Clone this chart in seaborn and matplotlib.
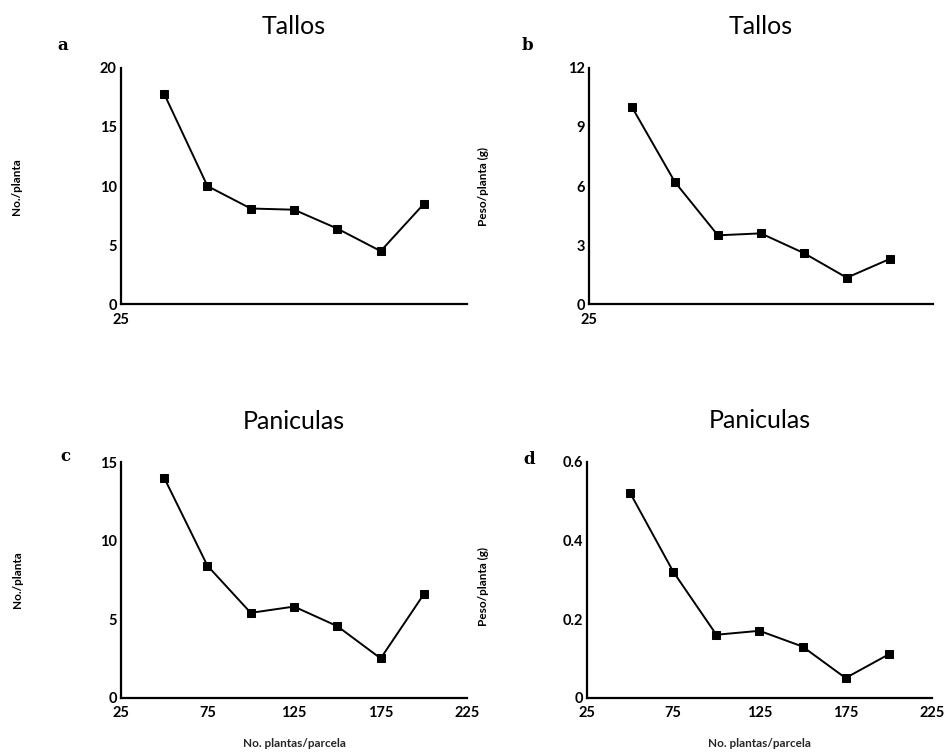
import matplotlib
matplotlib.use("Agg")
import matplotlib.pyplot as plt
import seaborn as sns
import pandas as pd

# Plant density per plot
plantas_parcela = [50, 75, 100, 125, 150, 175, 200]

# Stems (tallos)
tallos_numero = [17.8, 10.0, 8.1, 8.0, 6.4, 4.5, 8.5]
tallos_peso = [10.0, 6.2, 3.5, 3.6, 2.6, 1.35, 2.3]

# Panicles (paniculas)
paniculas_numero = [14.0, 8.4, 5.4, 5.8, 4.55, 2.5, 6.6]
paniculas_peso = [0.52, 0.32, 0.16, 0.17, 0.13, 0.05, 0.11]

titulos = ["Tallos", "Tallos", "Paniculas", "Paniculas"]
letras = ["a", "b", "c", "d"]
etiquetas_y = ["No./planta", "Peso/planta (g)", "No./planta", "Peso/planta (g)"]
etiqueta_x = "No. plantas/parcela"
x_ticks = [25, 75, 125, 175, 225]
y_ticks = [[0, 5, 10, 15, 20], [0, 3, 6, 9, 12], [0, 5, 10, 15], [0, 0.2, 0.4, 0.6]]
y_ticklabels = [["0", "5", "10", "15", "20"], ["0", "3", "6", "9", "12"],
                ["0", "5", "10", "15"], ["0", "0.2", "0.4", "0.6"]]

sns.set_theme(style="white")
plt.rcParams["font.family"] = ["Lato", "DejaVu Sans"]

fig = plt.figure(figsize=(9.44, 7.54), dpi=100)

# axes rectangles [left, bottom, width, height] in figure fraction
rects = [
    [0.128, 0.5964, 0.367, 0.3137],
    [0.624, 0.5964, 0.364, 0.3137],
    [0.128, 0.0747, 0.367, 0.3125],
    [0.622, 0.0747, 0.365, 0.3130],
]
series = [tallos_numero, tallos_peso, paniculas_numero, paniculas_peso]

for i, (rect, vals) in enumerate(zip(rects, series)):
    ax = fig.add_axes(rect)
    df = pd.DataFrame({"x": plantas_parcela, "y": vals})
    sns.lineplot(data=df, x="x", y="y", ax=ax, color="black", linewidth=1.4,
                 marker="s", markersize=6, markeredgecolor="black",
                 markerfacecolor="black")
    ax.set_xlim(25, 225)
    ax.set_ylim(0, y_ticks[i][-1])
    ax.set_yticks(y_ticks[i])
    ax.set_yticklabels(y_ticklabels[i], fontsize=10.5, fontweight="bold")
    if i < 2:
        ax.set_xticks([25])
        ax.set_xticklabels(["25"], fontsize=10.5, fontweight="bold")
        ax.set_xlabel("")
    else:
        ax.set_xticks(x_ticks)
        ax.set_xticklabels([str(t) for t in x_ticks], fontsize=10.5, fontweight="bold")
        ax.set_xlabel(etiqueta_x, fontsize=8.5, fontweight="bold", labelpad=13)
    ax.set_ylabel("")
    ax.tick_params(axis="y", direction="in", length=5, width=1.2, pad=3, colors="black")
    ax.tick_params(axis="x", length=0, pad=6, colors="black")
    for s in ["top", "right"]:
        ax.spines[s].set_visible(False)
    for s in ["left", "bottom"]:
        ax.spines[s].set_color("black")
        ax.spines[s].set_linewidth(1.6)
    ax.set_title(titulos[i], fontsize=18, pad=24, color="black")

# y-axis labels, set well to the left of each panel
ylabel_pos = [(0.017, 0.752), (0.512, 0.752), (0.019, 0.231), (0.512, 0.222)]
for (xp, yp), lab in zip(ylabel_pos, etiquetas_y):
    fig.text(xp, yp, lab, rotation=90, ha="center", va="center",
             fontsize=8.5, fontweight="bold", color="black")

# panel letters
letter_pos = [(0.066, 0.940), (0.559, 0.940), (0.069, 0.395), (0.561, 0.391)]
for (xp, yp), let in zip(letter_pos, letras):
    fig.text(xp, yp, let, ha="center", va="center", fontsize=12,
             fontweight="bold", family=["DejaVu Serif"], color="black")

fig.savefig("out.png", dpi=100, facecolor="white")
